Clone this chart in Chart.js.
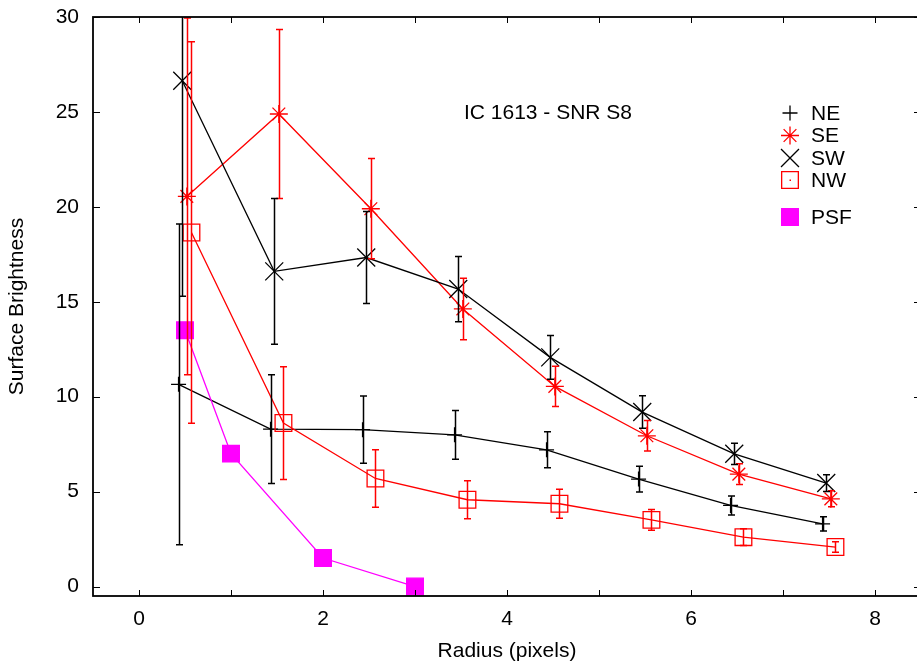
<!DOCTYPE html>
<html>
<head>
<meta charset="utf-8">
<script src="https://cdn.jsdelivr.net/npm/chart.js@4/dist/chart.umd.min.js"></script>
<style>
  html, body { margin: 0; padding: 0; background: #fff; overflow: hidden; }
  #sbChart { display: block; }
</style>
</head>
<body>
<canvas id="sbChart" width="922" height="665"></canvas>
<script>
// radius (pixels), surface brightness and its error for each quadrant
const neR = [0.43, 1.43, 2.43, 3.43, 4.43, 5.43, 6.43, 7.43];
const neV = [10.65, 8.29, 8.26, 7.99, 7.2, 5.66, 4.27, 3.3];
const neE = [8.45, 2.86, 1.77, 1.28, 0.95, 0.68, 0.5, 0.38];

const seR = [0.52, 1.52, 2.52, 3.52, 4.52, 5.52, 6.52, 7.52];
const seV = [20.55, 24.89, 19.9, 14.62, 10.54, 7.94, 5.92, 4.62];
const seE = [9.4, 4.45, 2.64, 1.62, 1.06, 0.8, 0.55, 0.42];

const swR = [0.47, 1.47, 2.47, 3.47, 4.47, 5.47, 6.47, 7.47];
const swV = [26.64, 16.6, 17.33, 15.67, 12.07, 9.19, 6.99, 5.45];
const swE = [11.35, 3.84, 2.42, 1.72, 1.15, 0.86, 0.56, 0.44];

const nwR = [0.57, 1.57, 2.57, 3.57, 4.57, 5.57, 6.57, 7.57];
const nwV = [18.65, 8.61, 5.69, 4.57, 4.36, 3.51, 2.6, 2.08];
const nwE = [10.05, 2.97, 1.52, 1.0, 0.76, 0.54, 0.44, 0.28];

const psfR = [0.5, 1, 2, 3];
const psfV = [13.5, 7.0, 1.5, 0.0];

const xTickVals = [0, 1, 2, 3, 4, 5, 6, 7, 8];
const xLabelled = [0, 2, 4, 6, 8];
const yTickVals = [0, 5, 10, 15, 20, 25, 30];

const FONT = '"Liberation Sans", Arial, Helvetica, sans-serif';
Chart.defaults.font.family = FONT;
Chart.defaults.font.size = 21;
Chart.defaults.color = '#000';

const pts = (xs, ys) => xs.map((v, i) => ({x: v, y: ys[i]}));

const noPad = s => { s.paddingTop = 0; s.paddingBottom = 0; s.paddingLeft = 0; s.paddingRight = 0; };

const errorBars = {
    id: 'errorBars',
    afterDatasetsDraw(chart) {
        const {ctx, chartArea: a, scales: {x, y}} = chart;
        ctx.save();
        ctx.beginPath();
        ctx.rect(a.left, a.top, a.right - a.left, a.bottom - a.top);
        ctx.clip();
        chart.data.datasets.forEach(ds => {
            if (!ds.errors) return;
            ctx.strokeStyle = ds.borderColor;
            ctx.lineWidth = 1.5;
            ds.data.forEach((p, j) => {
                const px = Math.round(x.getPixelForValue(p.x)) + 0.5;
                const t = y.getPixelForValue(p.y + ds.errors[j]);
                const b = y.getPixelForValue(p.y - ds.errors[j]);
                ctx.beginPath();
                ctx.moveTo(px, t); ctx.lineTo(px, b);
                ctx.moveTo(px - 3.5, t); ctx.lineTo(px + 3.5, t);
                ctx.moveTo(px - 3.5, b); ctx.lineTo(px + 3.5, b);
                ctx.stroke();
            });
        });
        ctx.restore();
    }
};

// gnuplot-like frame with inward ticks, title text and key
const frame = {
    id: 'frame',
    afterDraw(chart) {
        const {ctx, chartArea: a, scales: {x, y}} = chart;
        ctx.save();
        ctx.strokeStyle = '#000';
        ctx.lineWidth = 1;
        ctx.beginPath();
        x.ticks.forEach(t => {
            const px = Math.round(x.getPixelForValue(t.value)) + 0.5;
            ctx.moveTo(px, a.bottom); ctx.lineTo(px, a.bottom - 6);
            ctx.moveTo(px, a.top); ctx.lineTo(px, a.top + 6);
        });
        y.ticks.forEach(t => {
            const py = Math.round(y.getPixelForValue(t.value)) + 0.5;
            ctx.moveTo(a.left, py); ctx.lineTo(a.left + 7, py);
            ctx.moveTo(a.right, py); ctx.lineTo(a.right - 7, py);
        });
        ctx.stroke();
        ctx.lineWidth = 1.8;
        ctx.strokeRect(a.left, a.top, a.right - a.left, a.bottom - a.top);

        ctx.fillStyle = '#000';
        ctx.font = '21px ' + FONT;
        ctx.textAlign = 'center';
        ctx.textBaseline = 'middle';
        ctx.fillText('IC 1613 - SNR S8', 548, 113);

        // key
        const rows = [113, 135.5, 158, 180, 217];
        ctx.textAlign = 'left';
        chart.data.datasets.forEach((ds, i) => {
            const cy = rows[i];
            ctx.save();
            ctx.strokeStyle = ds.borderColor;
            ctx.fillStyle = ds.pointBackgroundColor;
            ctx.lineWidth = 1.3;
            Chart.helpers.drawPoint(ctx, {
                pointStyle: ds.pointStyle,
                radius: ds.pointRadius,
                borderWidth: 1.3,
                rotation: 0
            }, 790, cy);
            if (ds.label === 'NW') {
                ctx.fillStyle = ds.borderColor;
                ctx.fillRect(789.5, cy - 0.5, 1.5, 1.5);
            }
            ctx.restore();
            ctx.fillStyle = '#000';
            ctx.fillText(ds.label, 811, cy + 1);
        });
        ctx.restore();
    }
};

new Chart(document.getElementById('sbChart'), {
    type: 'scatter',
    data: {
        datasets: [
            {
                label: 'NE', data: pts(neR, neV), errors: neE,
                borderColor: '#000', backgroundColor: '#000', pointBackgroundColor: 'rgba(0,0,0,0)',
                pointStyle: 'cross', pointRadius: 7.5, order: 5
            },
            {
                label: 'SE', data: pts(seR, seV), errors: seE,
                borderColor: '#ff0000', backgroundColor: '#ff0000', pointBackgroundColor: 'rgba(0,0,0,0)',
                pointStyle: 'star', pointRadius: 9, order: 4
            },
            {
                label: 'SW', data: pts(swR, swV), errors: swE,
                borderColor: '#000', backgroundColor: '#000', pointBackgroundColor: 'rgba(0,0,0,0)',
                pointStyle: 'crossRot', pointRadius: 12.7, order: 3
            },
            {
                label: 'NW', data: pts(nwR, nwV), errors: nwE,
                borderColor: '#ff0000', backgroundColor: '#ff0000', pointBackgroundColor: 'rgba(0,0,0,0)',
                pointStyle: 'rect', pointRadius: 11.8, order: 2
            },
            {
                label: 'PSF', data: pts(psfR, psfV),
                borderColor: '#ff00ff', backgroundColor: '#ff00ff', pointBackgroundColor: '#ff00ff',
                pointStyle: 'rect', pointRadius: 11.8, order: 1
            }
        ].map(ds => Object.assign({
            showLine: true, borderWidth: 1.3, pointBorderWidth: 1.3,
            pointBorderColor: ds.borderColor, pointHoverRadius: ds.pointRadius
        }, ds))
    },
    plugins: [errorBars, frame],
    options: {
        responsive: false,
        animation: false,
        layout: { autoPadding: false, padding: { top: 17, right: 1, left: 0, bottom: 0 } },
        plugins: { legend: { display: false }, tooltip: { enabled: false } },
        elements: { line: { tension: 0 } },
        scales: {
            x: {
                type: 'linear', min: -0.5, max: 8.5,
                grid: { display: false, drawTicks: false }, border: { display: false },
                ticks: {
                    padding: 11, maxRotation: 0, autoSkip: false,
                    callback: v => xLabelled.includes(v) ? String(v) : ''
                },
                afterBuildTicks: s => { s.ticks = xTickVals.map(v => ({value: v})); },
                title: { display: true, text: 'Radius (pixels)', padding: { top: 1, bottom: 1 } },
                afterFit: s => { s.height = 69; noPad(s); }
            },
            y: {
                type: 'linear', min: -0.5, max: 30,
                grid: { display: false, drawTicks: false }, border: { display: false },
                ticks: { padding: 14 },
                afterBuildTicks: s => { s.ticks = yTickVals.map(v => ({value: v})); },
                title: { display: true, text: 'Surface Brightness', padding: { top: 5, bottom: 0 } },
                afterFit: s => { s.width = 93; noPad(s); }
            }
        }
    }
});
</script>
</body>
</html>
